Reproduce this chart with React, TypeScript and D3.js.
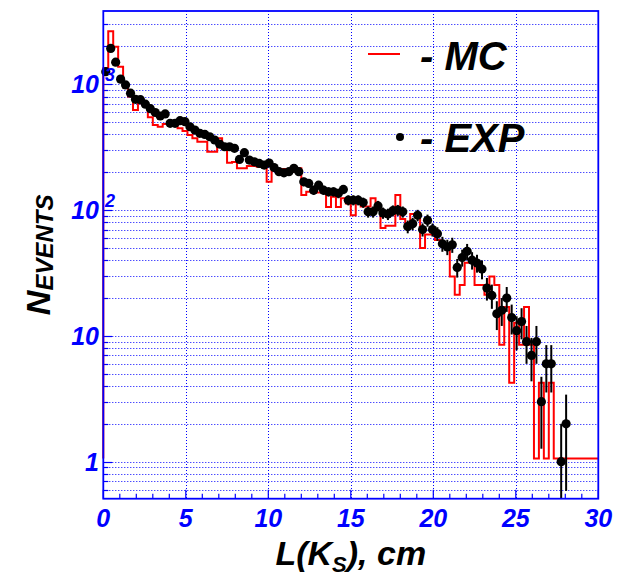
import React from 'react';
import * as d3 from 'd3';

// Decay length histogram: 100 bins of 0.3 cm from 0 to 30 cm
const binWidth = 0.3;
const xDomain = [0, 30];
const yDomain = [0.508, 3828];

// Simulated (MC) histogram contents per bin
const mcCounts = [
  1340, 2640, 1990, 1380, 950, 800, 625, 706, 672, 547,
  475, 460, 483, 483, 466, 447, 425, 395, 372, 350,
  350, 291, 291, 372, 335, 238, 241, 215, 215, 224,
  224, 221, 221, 168, 221, 212, 212, 202, 202, 215,
  132, 140, 138, 138, 138, 106, 128, 106, 124, 113,
  91, 120, 107, 107, 124, 109, 72, 75, 75, 132,
  85, 72, 93, 93, 50, 64, 64, 58, 55, 50,
  29.7, 21.2, 25.4, 38.2, 38.2, 25.4, 25.4, 21.2, 29.7, 25.4,
  8.5, 17.0, 4.24, 12.7, 8.5, 17.0, 8.5, 1.06, 4.24, 1.06,
  4.24, 1.06, 1.06, 1.06, 1.06, 1.06, 1.06, 1.06, 1.06, 1.06,
];
const mcFloor = 1.06;

// Experimental event counts per bin (0 = empty bin)
const expCounts = [
  1260, 1930, 1500, 1100, 990, 850, 760, 755, 695, 640,
  597, 560, 582, 490, 490, 514, 505, 460, 433, 408,
  400, 383, 361, 335, 319, 319, 310, 253, 286, 250,
  242, 235, 228, 237, 218, 202, 198, 202, 215, 202,
  168, 163, 144, 158, 144, 140, 140, 136, 146, 120,
  120, 120, 115, 97, 97, 108, 95, 93, 99, 100,
  97, 74, 78, 91, 70, 83, 70, 65, 54, 51,
  53, 35, 42, 47, 40, 38, 34, 24, 21, 15,
  16, 20, 14, 11, 13, 9, 7, 9, 3, 6,
  6, 0, 1, 2, 0, 0, 0, 0, 0, 0,
];

const xMajorTicks = [0, 5, 10, 15, 20, 25, 30];
const xTickLabels = ['0', '5', '10', '15', '20', '25', '30'];
const yMajorTicks = [1, 10, 100, 1000];
const yTickBase = ['1', '10', '10', '10'];
const yTickExp = ['', '', '2', '3'];

const W = 618;
const H = 579;
const PL = 103.3;
const PR = 598.3;
const PT = 11;
const PB = 498.7;

const BLUE = '#0000ff';
const RED = '#ff0000';
const FONT = "'Liberation Sans', Arial, Helvetica, sans-serif";

// snap a 1px line to the pixel grid
const px = (v: number) => Math.round(v) + 0.5;

export default function App() {
  const x = d3.scaleLinear().domain(xDomain).range([PL, PR]);
  const y = d3.scaleLog().domain(yDomain).range([PB, PT]);

  // log grid values: 1..9 x 10^k inside the domain
  const yGrid: number[] = [];
  for (let k = -1; k <= 3; k++) {
    for (let m = 1; m <= 9; m++) {
      const v = m * Math.pow(10, k);
      if (v >= yDomain[0] && v <= yDomain[1]) yGrid.push(v);
    }
  }
  const xMinor = d3.range(xDomain[0], xDomain[1] + 0.001, 1);

  // step outline of the MC histogram
  const steps: [number, number][] = [[0, mcFloor]];
  mcCounts.forEach((v, i) => {
    steps.push([i * binWidth, v]);
    steps.push([(i + 1) * binWidth, v]);
  });
  const histLine = d3
    .line<[number, number]>()
    .x((d) => x(d[0]))
    .y((d) => y(d[1]));

  const points = expCounts
    .map((n, i) => ({ n, c: (i + 0.5) * binWidth }))
    .filter((d) => d.n > 0);

  return (
    <svg
      width={W}
      height={H}
      style={{ position: 'absolute', left: 0, top: 0, display: 'block' }}
      fontFamily={FONT}
    >
      <rect x={0} y={0} width={W} height={H} fill="#ffffff" />

      {/* dotted grid */}
      <g stroke={BLUE} strokeWidth={1} strokeDasharray="1 2">
        {xMajorTicks
          .filter((t) => t > xDomain[0] && t < xDomain[1])
          .map((t) => (
            <line key={'gx' + t} x1={px(x(t))} x2={px(x(t))} y1={PT} y2={PB} />
          ))}
        {yGrid.map((v) => (
          <line key={'gy' + v} x1={PL} x2={PR} y1={px(y(v))} y2={px(y(v))} />
        ))}
      </g>

      {/* axis ticks */}
      <g stroke={BLUE} strokeWidth={1.2}>
        {xMinor.map((t) => (
          <line
            key={'tx' + t}
            x1={x(t)}
            x2={x(t)}
            y1={PB}
            y2={PB - (t % 5 === 0 ? 9 : 5)}
          />
        ))}
        {yGrid.map((v) => (
          <line
            key={'ty' + v}
            x1={PL}
            x2={PL + (yMajorTicks.includes(v) ? 9 : 5)}
            y1={px(y(v))}
            y2={px(y(v))}
          />
        ))}
      </g>

      {/* MC histogram */}
      <path d={histLine(steps) || ''} fill="none" stroke={RED} strokeWidth={2} />

      {/* experimental points with sqrt(N) errors */}
      <g>
        {points.map((d, i) => {
          const err = Math.sqrt(d.n);
          const lo = Math.max(d.n - err, yDomain[0]);
          const hi = Math.min(d.n + err, yDomain[1]);
          return (
            <g key={'p' + i}>
              <line
                x1={x(d.c)}
                x2={x(d.c)}
                y1={y(lo)}
                y2={y(hi)}
                stroke="#000"
                strokeWidth={2}
              />
              <circle cx={x(d.c)} cy={y(d.n)} r={4.6} fill="#000" />
            </g>
          );
        })}
      </g>

      {/* frame */}
      <rect
        x={PL}
        y={PT}
        width={PR - PL}
        height={PB - PT}
        fill="none"
        stroke={BLUE}
        strokeWidth={1.8}
      />

      {/* x tick labels */}
      <g fill={BLUE} fontSize={25} fontWeight="bold" fontStyle="italic" textAnchor="middle">
        {xMajorTicks.map((t, i) => (
          <text key={'lx' + t} x={x(t)} y={527}>
            {xTickLabels[i]}
          </text>
        ))}
      </g>

      {/* y tick labels */}
      <g fill={BLUE} fontWeight="bold" fontStyle="italic">
        {yMajorTicks.map((v, i) => (
          <g key={'ly' + v}>
            <text x={99} y={y(v) + 9} fontSize={25} textAnchor="end">
              {yTickBase[i]}
            </text>
            {yTickExp[i] && (
              <text x={105} y={y(v) - 3} fontSize={18} textAnchor="start">
                {yTickExp[i]}
              </text>
            )}
          </g>
        ))}
      </g>

      {/* axis titles */}
      <text
        x={(PL + PR) / 2}
        y={565}
        fontSize={34}
        fontWeight="bold"
        fontStyle="italic"
        textAnchor="middle"
        fill="#000"
      >
        L(K
        <tspan fontSize={22} dy={7}>
          S
        </tspan>
        <tspan dy={-7}>), cm</tspan>
      </text>
      <text
        transform={`translate(50, ${(PT + PB) / 2}) rotate(-90)`}
        fontSize={34}
        fontWeight="bold"
        fontStyle="italic"
        textAnchor="middle"
        fill="#000"
      >
        N
        <tspan fontSize={24} dy={3}>
          EVENTS
        </tspan>
      </text>

      {/* legend */}
      <line x1={368} x2={400} y1={54} y2={54} stroke={RED} strokeWidth={2} />
      <text x={420} y={70} fontSize={40} fontWeight="bold" fontStyle="italic" fill="#000">
        - MC
      </text>
      <circle cx={400} cy={137} r={4} fill="#000" />
      <text x={420} y={152} fontSize={40} fontWeight="bold" fontStyle="italic" fill="#000">
        - EXP
      </text>
    </svg>
  );
}
